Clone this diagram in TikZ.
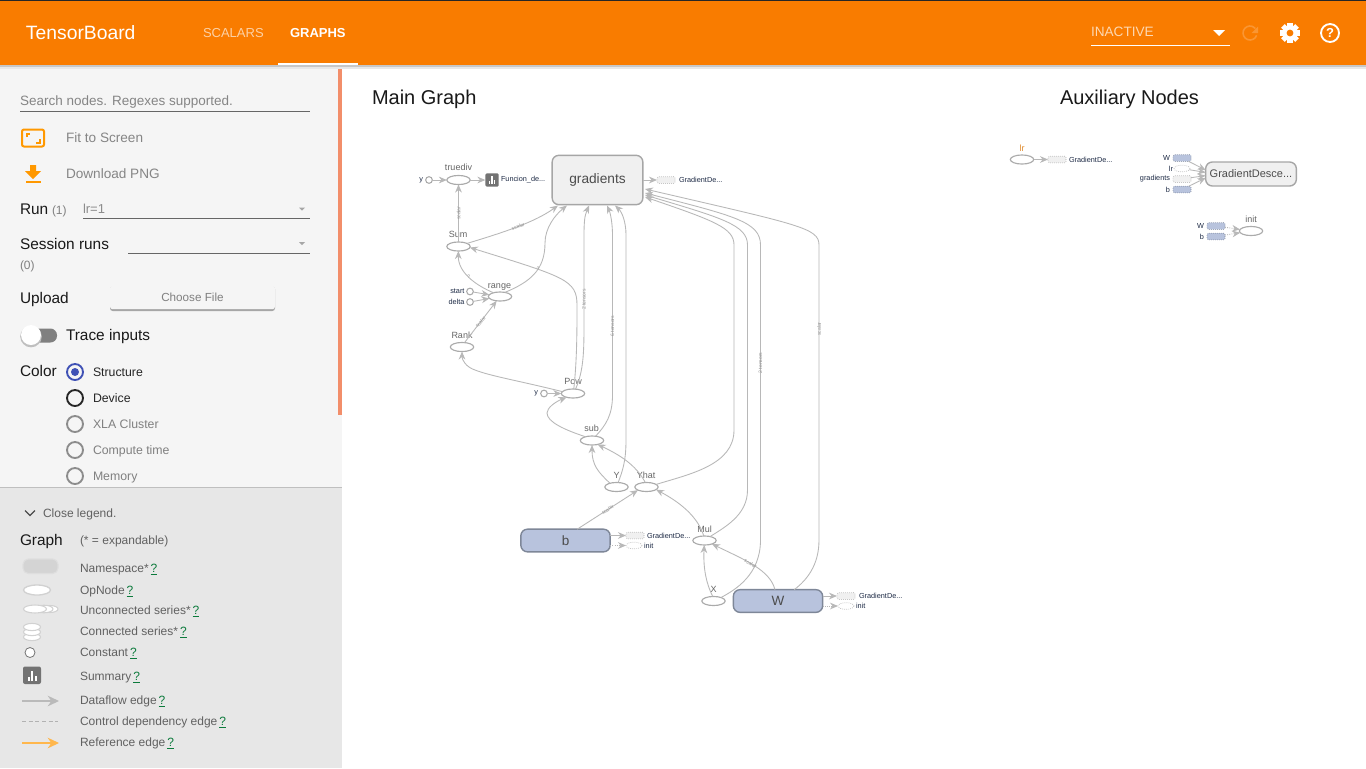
\documentclass[tikz,border=0pt]{standalone}
\usepackage{fontspec}
\setmainfont{Liberation Sans}
\usetikzlibrary{arrows.meta,shapes.geometric,calc}
\definecolor{hdr}{HTML}{F97C00}
\definecolor{side}{HTML}{F5F5F5}
\definecolor{legendbg}{HTML}{E7E7E7}
\definecolor{edgec}{HTML}{B8B8B8}
\definecolor{opc}{HTML}{ABABAB}
\definecolor{lbl}{HTML}{666666}
\definecolor{nsfill}{HTML}{B8C3DD}
\definecolor{nsdraw}{HTML}{7E8798}
\definecolor{gfill}{HTML}{F0F0F0}
\definecolor{gdraw}{HTML}{A6A6A6}
\definecolor{ic}{HTML}{FF9800}
\definecolor{lnk}{HTML}{0B7A3B}
\definecolor{sm}{HTML}{1D2A45}
\definecolor{split}{HTML}{F28E6A}
\definecolor{radioblue}{HTML}{3F51B5}
\definecolor{refedge}{HTML}{FFB74D}
\definecolor{lrtxt}{HTML}{E08A2C}
\newcommand{\fpx}[1]{\fontsize{\dimexpr #1pt*3/4\relax}{\dimexpr #1pt*9/10\relax}\selectfont}
\tikzset{
  x=0.75pt,y=-0.75pt,
  txt/.style={inner sep=0,outer sep=0,anchor=west,text depth=0pt,execute at begin node={\vphantom{A}}},
  sidetxt/.style={txt,font=\fpx{15.4},text=black!90},
  greytxt/.style={txt,font=\fpx{13.6},text=black!48},
  legtxt/.style={txt,font=\fpx{12},text=black!62},
  radiotxt/.style={txt,font=\fpx{12.3}},
  op/.style={ellipse,draw=opc,fill=white,line width=0.85pt,minimum width=17.5pt,minimum height=6.8pt,inner sep=0,outer sep=0},
  constn/.style={circle,draw=opc,fill=white,line width=0.8pt,minimum size=5pt,inner sep=0,outer sep=0},
  ns/.style={rounded corners=5pt,draw=nsdraw,fill=nsfill,line width=1.05pt,minimum width=67pt,minimum height=17pt,inner sep=0,outer sep=0,font=\fpx{13.5},text=black!70},
  gr/.style={rounded corners=5pt,draw=gdraw,fill=gfill,line width=1.05pt,inner sep=0,outer sep=0,text=black!70},
  ser/.style={rounded corners=1pt,draw=opc,densely dotted,fill=gfill,line width=0.5pt,minimum width=13.5pt,minimum height=5pt,inner sep=0,outer sep=0},
  serb/.style={ser,fill=nsfill,draw=nsdraw},
  serell/.style={ellipse,draw=opc,densely dotted,fill=white,line width=0.5pt,minimum width=12pt,minimum height=5pt,inner sep=0,outer sep=0},
  oplbl/.style={inner sep=0,outer sep=0,font=\fpx{9},text=lbl},
  sml/.style={inner sep=0,outer sep=0,font=\fpx{7.3},text=sm},
  edge/.style={draw=edgec,line width=0.65pt,-{Stealth[length=6pt,width=5pt,fill=edgec]}},
  ctl/.style={edge,densely dotted},
  elbl/.style={inner sep=0,outer sep=0,font=\fpx{5},text=black!42},
  radio/.style={circle,line width=1.4pt,minimum size=12pt,inner sep=0,outer sep=0},
}
\begin{document}
\begin{tikzpicture}
\useasboundingbox (0,0) rectangle (1366,768);
\fill[white] (0,0) rectangle (1366,768);
% sidebar
\fill[side] (0,65) rectangle (342,488);
\fill[legendbg] (0,488) rectangle (342,768);
\draw[black!25,line width=0.6pt] (0,487.5) -- (342,487.5);
\fill[split] (337.5,65) rectangle (342,415);
% header
\fill[black!22] (0,65) rectangle (1366,67);
\fill[black!9] (0,67) rectangle (1366,69);
\fill[hdr] (0,0) rectangle (1366,65);
\fill[black!85] (0,0) rectangle (1366,1);
\node[txt,font=\fpx{19.3},text=white] (title) at (26,33) {TensorBoard};
\node[txt,font=\fpx{13},text=white!65!hdr] (tscal) at (203,33) {SCALARS};
\node[txt,font=\fpx{13},text=white] (tgraph) at (290,33) {\bfseries GRAPHS};
\fill[white] (278,63) rectangle (358,65);
\node[txt,font=\fpx{13.6},text=white!70!hdr] (inactive) at (1091,32) {INACTIVE};
\draw[white,line width=0.7pt] (1091,45) -- (1230,45);
\fill[white] (1213,30) -- (1225,30) -- (1219,36) -- cycle;
% refresh
\draw[white!20!hdr,line width=1.2pt] (1256.6,35.4) arc (20:320:7);
\fill[white!20!hdr] (1258,26.5) -- (1258,33) -- (1251.5,33) -- cycle;
% gear
\begin{scope}[shift={(1290,33)}]
\foreach \a in {0,45,...,315}{\fill[white,rotate=\a] (-2.6,-10) rectangle (2.6,0);}
\fill[white] (0,0) circle (7.6);
\fill[hdr] (0,0) circle (3.4);
\end{scope}
% help
\draw[white,line width=1.4pt] (1330,33) circle (9);
\node[inner sep=0,font=\fpx{13},text=white] (helpq) at (1330,33) {\bfseries ?};
% search
\node[greytxt,font=\fpx{13.5}] (search) at (20,101) {Search nodes. Regexes supported.};
\draw[black!60,line width=0.6pt] (20,111.5) -- (310,111.5);
% fit
\draw[ic,line width=1.5pt,rounded corners=1.5pt] (22,129.5) rectangle (44,146.5);
\draw[ic,line width=1.5pt] (26.5,137) -- (26.5,133.5) -- (30,133.5);
\draw[ic,line width=1.5pt] (40,139) -- (40,142.5) -- (36,142.5);
\node[greytxt] (fit) at (66,138) {Fit to Screen};
% download
\fill[ic] (30,165) -- (36,165) -- (36,171) -- (41,171) -- (33,179) -- (25,171) -- (30,171) -- cycle;
\fill[ic] (25.5,180.5) rectangle (40.5,182.5);
\node[greytxt] (dl) at (66,174) {Download PNG};
% run
\node[sidetxt] (run) at (20,209) {Run};
\node[txt,font=\fpx{12},text=black!50] (run1) at (52,210) {(1)};
\node[txt,font=\fpx{13},text=black!45] (runv) at (83,209) {lr=1};
\draw[black!60,line width=0.6pt] (83,218.5) -- (310,218.5);
\fill[black!35] (299,207.5) -- (305,207.5) -- (302,210.5) -- cycle;
\node[sidetxt] (sess) at (20,244) {Session runs};
\draw[black!60,line width=0.6pt] (128,253.5) -- (310,253.5);
\fill[black!35] (299,242) -- (305,242) -- (302,245) -- cycle;
\node[txt,font=\fpx{12},text=black!50] (sess0) at (20,265) {(0)};
\node[sidetxt] (upl) at (20,298) {Upload};
\fill[black!35,rounded corners=2pt] (110,286.5) rectangle (275,311);
\node[rounded corners=2pt,fill=side,inner sep=0,minimum width=123.75pt,minimum height=17.6pt,font=\fpx{11.7},text=black!50] (choose) at (192.5,297.5) {Choose File};
% trace
\fill[black!50,rounded corners=5pt] (24,328.5) rectangle (57,342.5);
\fill[black!25] (31,336.5) circle (10.8);
\fill[white] (31,335) circle (10);
\node[sidetxt] (trace) at (66,335) {Trace inputs};
\node[sidetxt] (color) at (20,371) {Color};
% radios
\node[radio,draw=radioblue] (r1) at (75,372) {};
\fill[radioblue] (75,372) circle (4);
\node[radio,draw=black!85] (r2) at (75,398) {};
\node[radio,draw=black!45] (r3) at (75,424) {};
\node[radio,draw=black!45] (r4) at (75,450) {};
\node[radio,draw=black!45] (r5) at (75,476) {};
\node[radiotxt,text=black!85] (s1) at (93,372.5) {Structure};
\node[radiotxt,text=black!85] (s2) at (93,398.5) {Device};
\node[radiotxt,text=black!50] (s3) at (93,424.5) {XLA Cluster};
\node[radiotxt,text=black!50] (s4) at (93,450.5) {Compute time};
\node[radiotxt,text=black!50] (s5) at (93,476.5) {Memory};
% legend
\draw[black!70,line width=1pt] (25,510.5) -- (30,515.5) -- (35,510.5);
\node[legtxt] (close) at (43,513.5) {Close legend.};
\node[sidetxt] (lg) at (20,540) {Graph};
\node[legtxt] (lg2) at (80,540.5) {(* = expandable)};
\newcommand{\hq}{\,\textcolor{lnk}{\underline{?}}}
\node[legtxt] (l1) at (80,568.5) {Namespace*\hq};
\node[legtxt] (l2) at (80,590) {OpNode\hq};
\node[legtxt] (l3) at (80,610.5) {Unconnected series*\hq};
\node[legtxt] (l4) at (80,631.5) {Connected series*\hq};
\node[legtxt] (l5) at (80,652.5) {Constant\hq};
\node[legtxt] (l6) at (80,676.5) {Summary\hq};
\node[legtxt] (l7) at (80,700.5) {Dataflow edge\hq};
\node[legtxt] (l8) at (80,721.5) {Control dependency edge\hq};
\node[legtxt] (l9) at (80,742.5) {Reference edge\hq};
\draw[black!13,fill=black!17,line width=0.8pt,rounded corners=4pt] (23,559) rectangle (58,573.5);
\draw[black!18,fill=white,line width=1pt] (37,590) ellipse (13.5 and 5);
\draw[black!18,fill=white,line width=0.8pt] (50,609) ellipse (8 and 3.5);
\draw[black!18,fill=white,line width=0.8pt] (44,609) ellipse (9 and 3.8);
\draw[black!18,fill=white,line width=0.8pt] (35,609) ellipse (11.5 and 4);
\foreach \yy in {637,632,627}{\draw[black!18,fill=white,line width=0.8pt] (32,\yy) ellipse (8.5 and 3.6);}
\draw[black!55,fill=white,line width=0.6pt] (30,652.5) circle (5);
\fill[black!55,rounded corners=1.5pt] (23,666.5) rectangle (41,684);
\fill[white] (27.5,677) rectangle (29.5,681);
\fill[white] (31,670.5) rectangle (33,681);
\fill[white] (34.5,675.5) rectangle (36.5,681);
\coordinate (le1a) at (22,701); \coordinate (le1b) at (59,701);
\draw[black!27,line width=0.9pt,-{Stealth[length=8.5pt,width=8pt]}] (le1a) -- (le1b);
\coordinate (le2a) at (22,721.5); \coordinate (le2b) at (58,721.5);
\draw[black!30,line width=0.6pt,densely dashed] (le2a) -- (le2b);
\coordinate (le3a) at (22,743); \coordinate (le3b) at (59,743);
\draw[refedge,line width=0.9pt,-{Stealth[length=8.5pt,width=8pt]}] (le3a) -- (le3b);
% titles
\node[txt,font=\fpx{20},text=black!90] (mg) at (372,97) {Main Graph};
\node[txt,font=\fpx{20},text=black!90] (aux) at (1060,97) {Auxiliary Nodes};
% ---------- main graph nodes
\node[gr,minimum width=68pt,minimum height=37pt,font=\fpx{13.7}] (grad) at (597.5,180) {gradients};
\coordinate (g1) at (558,205.5);
\coordinate (g2) at (567,205.5);
\coordinate (g3) at (589,205.5);
\coordinate (g4) at (607,205.5);
\coordinate (g5) at (615,205.5);
\coordinate (g6) at (645,197);
\coordinate (g7) at (645,195);
\coordinate (g8) at (645,193);
\coordinate (g9) at (645,189);
\node[op] (truediv) at (458.5,180) {};
\node[oplbl,anchor=south] (ltrue) at (458.5,171) {truediv};
\node[constn] (cy1) at (429,180) {};
\node[sml,anchor=east] (ly1) at (423,180) {y};
\node[fill=black!55,rounded corners=1pt,minimum size=10pt,inner sep=0,outer sep=0] (summ) at (492,180) {};
\fill[white] (488.5,181) rectangle (489.8,184); \fill[white] (491.2,176) rectangle (492.6,184); \fill[white] (494,179.5) rectangle (495.3,184);
\node[sml,anchor=west] (lsum) at (501,180) {Funcion\_de...};
\node[ser,fill=gfill] (gser) at (666,180) {};
\node[sml,anchor=west] (lgser) at (679,180) {GradientDe...};
\node[op] (sum) at (458.5,246.5) {};
\node[oplbl,anchor=south] (lsumn) at (458,238) {Sum};
\node[op] (range) at (500,296.5) {};
\node[oplbl,anchor=south] (lrange) at (499.5,290.5) {range};
\node[constn] (cstart) at (470,291.5) {};
\node[constn] (cdelta) at (470,302) {};
\node[sml,anchor=east] (lstart) at (464.5,291.5) {start};
\node[sml,anchor=east] (ldelta) at (464.5,302) {delta};
\node[op] (rank) at (462,347) {};
\node[oplbl,anchor=south] (lrank) at (462,339) {Rank};
\node[op] (pow) at (573,393.5) {};
\node[oplbl,anchor=south] (lpow) at (573,385) {Pow};
\node[constn] (cy2) at (544,393.5) {};
\node[sml,anchor=east] (ly2) at (538,393.5) {y};
\node[op] (sub) at (592,440.5) {};
\node[oplbl,anchor=south] (lsub) at (591.5,432) {sub};
\node[op] (ynode) at (616.5,487) {};
\node[oplbl,anchor=south] (ly) at (616.5,478) {Y};
\node[op] (yhat) at (646.5,487) {};
\node[oplbl,anchor=south] (lyhat) at (646,479) {Yhat};
\node[ns] (b) at (565.5,540.5) {b};
\node[op] (mul) at (704.5,540.5) {};
\node[oplbl,anchor=south] (lmul) at (704.5,533) {Mul};
\node[op] (xn) at (713.5,601) {};
\node[oplbl,anchor=south] (lx) at (713.5,592.5) {X};
\node[ns] (w) at (778,601) {W};
\node[ser] (bs) at (635,535.5) {};
\node[sml,anchor=west] (lbs) at (647,535.5) {GradientDe...};
\node[serell] (bi) at (634,545.5) {};
\node[sml,anchor=west] (lbi) at (644,545.5) {init};
\node[ser] (ws) at (846,596) {};
\node[sml,anchor=west] (lws) at (859,596) {GradientDe...};
\node[serell] (wi) at (846,606) {};
\node[sml,anchor=west] (lwi) at (856,606) {init};
% ---------- edges
\draw[edge] (cy1) -- (truediv);
\draw[edge] (truediv) -- (summ);
\draw[edge] (sum) -- node[elbl,rotate=90,pos=0.5] {scalar} (truediv);
\draw[edge] (grad) -- (gser);
\draw[edge] (sum.20) .. controls (505,232) and (535,222) .. node[elbl,rotate=20,pos=0.5] {scalar} (g1);
\draw[edge] (range.40) .. controls (530,282) and (545,270) .. node[elbl,pos=0.6] {?} (545,243) .. controls (545,228) and (555,215) .. (g2);
\draw[edge] (range.150) .. controls (475,285) and (458,272) .. node[elbl,pos=0.5] {?} (sum);
\draw[edge] (cstart) -- (range);
\draw[edge] (cdelta) -- (range);
\draw[edge] (rank.60) -- node[elbl,rotate=50,pos=0.5] {scalar} (range);
\draw[edge] (pow.170) .. controls (520,381) and (490,376) .. (475,370) .. controls (466,367) and (462,360) .. (rank);
\draw[edge] (pow.80) .. controls (577,360) and (577,330) .. (577,305) .. controls (577,280) and (565,277) .. (sum.-5);
\draw[edge] (pow.60) .. controls (584,370) and (584,350) .. (584,320) -- node[elbl,rotate=90,pos=0.24] {2 tensors} (584,235) .. controls (584,220) and (585,215) .. (g3);
\draw[edge] (sub.50) .. controls (606,425) and (612.5,415) .. (612.5,395) -- node[elbl,rotate=90,pos=0.43] {6 tensors} (612.5,235) .. controls (612.5,222) and (610,212) .. (g4);
\draw[edge] (ynode.70) .. controls (623,470) and (626,460) .. (626,440) -- (626,235) .. controls (626,222) and (622,212) .. (g5);
\draw[edge] (yhat.105) .. controls (636,465) and (620,455) .. (sub.-35);
\draw[edge] (ynode.150) .. controls (598,472) and (592,465) .. (sub);
\draw[edge] (cy2) -- (pow);
\draw[edge] (sub.150) .. controls (565,430) and (547,422) .. (547,413) .. controls (547,408) and (555,402) .. (pow.210);
\draw[edge] (yhat.15) .. controls (690,474) and (734,465) .. (734,430) -- (734,245) .. controls (734,228) and (715,221) .. (g6);
\draw[edge] (mul.35) .. controls (725,527) and (747.5,515) .. (747.5,490) -- (747.5,245) .. controls (747.5,225) and (722,218) .. (g7);
\draw[edge] (xn.25) .. controls (735,590) and (760.5,575) .. (760.5,540) -- node[elbl,rotate=90,pos=0.6] {2 tensors} (760.5,245) .. controls (760.5,222) and (735,216) .. (g8);
\draw[edge] (w.35) .. controls (807,580) and (819,565) .. (819,540) -- node[elbl,rotate=90,pos=0.715] {scalar} (819,245) .. controls (819,228) and (800,225) .. (g9);
\draw[edge] (b.44) -- node[elbl,rotate=33,pos=0.5] {scalar} (yhat.200);
\draw[edge] (mul.100) .. controls (699,520) and (685,505) .. (yhat.-15);
\draw[edge] (xn.100) .. controls (707,585) and (703,570) .. (mul);
\draw[edge] (w.105) .. controls (770,570) and (745,560) .. node[elbl,rotate=-28,pos=0.55] {scalar} (mul.-25);
\draw[edge] (bs -| b.east) -- (bs);
\draw[ctl] (bi -| b.east) -- (bi);
\draw[edge] (ws -| w.east) -- (ws);
\draw[ctl] (wi -| w.east) -- (wi);
% ---------- auxiliary
\node[op] (lr) at (1022,159.5) {};
\node[oplbl,anchor=south,text=lrtxt] (llr) at (1022,151) {lr};
\node[ser] (lrs) at (1057,159.5) {};
\node[sml,anchor=west] (llrs) at (1069,159.5) {GradientDe...};
\draw[edge] (lr) -- (lrs);
\node[gr,minimum width=68pt,minimum height=18pt,font=\fpx{11}] (gd) at (1251,174) {GradientDesce...};
\node[serb] (a1) at (1182,158) {};
\node[serell] (a2) at (1182,168.5) {};
\node[ser] (a3) at (1182,179) {};
\node[serb] (a4) at (1182,189.5) {};
\node[sml,anchor=east] (la1) at (1170,158) {W};
\node[sml,anchor=east] (la2) at (1173,168.5) {lr};
\node[sml,anchor=east] (la3) at (1170,179) {gradients};
\node[sml,anchor=east] (la4) at (1170,189.5) {b};
\draw[edge] (a1) -- (gd.175);
\draw[edge] (a2) -- (gd.178);
\draw[edge] (a3) -- (gd.182);
\draw[edge] (a4) -- (gd.185);
\node[op] (ini) at (1251,231) {};
\node[oplbl,anchor=south] (lini) at (1251,222.5) {init};
\node[serb] (i1) at (1216,226) {};
\node[serb] (i2) at (1216,236.5) {};
\node[sml,anchor=east] (li1) at (1204,226) {W};
\node[sml,anchor=east] (li2) at (1204,236.5) {b};
\draw[ctl] (i1) -- (ini);
\draw[ctl] (i2) -- (ini);
\end{tikzpicture}
\end{document}
